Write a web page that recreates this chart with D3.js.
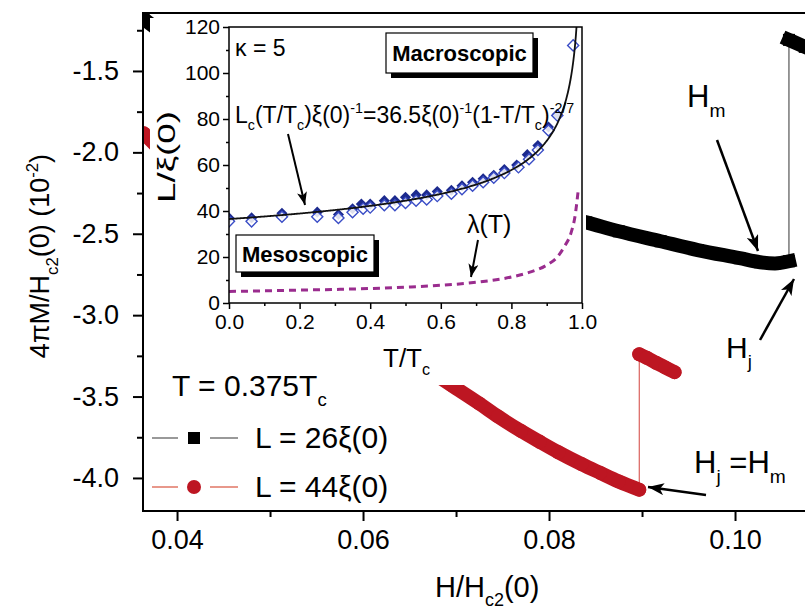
<!DOCTYPE html>
<html>
<head>
<meta charset="utf-8">
<script src="https://cdn.jsdelivr.net/npm/d3@7"></script>
<style>
  body { margin: 0; background: #fff; }
  text { font-family: "Liberation Sans", Arial, Helvetica, sans-serif; fill: #000; }
</style>
</head>
<body>
<svg id="chart" width="805" height="612"></svg>
<script>
// ---------- main panel: 4πM/Hc2(0) versus H/Hc2(0) at T = 0.375Tc ----------
const fieldMajor = [0.04, 0.06, 0.08, 0.10];
const fieldMinor = [0.05, 0.07, 0.09];
const magMajor = [-1.5, -2.0, -2.5, -3.0, -3.5, -4.0];
const magMinor = [-1.25, -1.75, -2.25, -2.75, -3.25, -3.75];

// L = 26ξ(0): branch before the jump and branch after it, [H, 4πM]
const l26Before = [
  [0.0364, -1.180], [0.0400, -1.330], [0.0425, -1.420], [0.0480, -1.617],
  [0.0530, -1.789], [0.0585, -1.943], [0.0640, -2.078], [0.0695, -2.195],
  [0.0745, -2.294], [0.0800, -2.374], [0.0840, -2.430], [0.0875, -2.485],
  [0.0920, -2.546], [0.0960, -2.600], [0.1005, -2.650], [0.1027, -2.675],
  [0.1043, -2.682], [0.1058, -2.669]
];
const l26After = [
  [0.1058, -1.309], [0.1075, -1.352], [0.1090, -1.390]
];

// L = 44ξ(0)
const l44Before = [
  [0.0364, -1.882], [0.0390, -2.030], [0.0425, -2.202], [0.0480, -2.480],
  [0.0530, -2.735], [0.0585, -2.990], [0.0640, -3.218], [0.0695, -3.430],
  [0.0725, -3.543], [0.0745, -3.622], [0.0770, -3.712], [0.0790, -3.778],
  [0.0810, -3.842], [0.0835, -3.915], [0.0855, -3.969], [0.0875, -4.022],
  [0.0897, -4.072]
];
const l44After = [
  [0.0897, -3.240], [0.0905, -3.262], [0.0915, -3.292], [0.0925, -3.321],
  [0.0935, -3.350]
];

// ---------- inset: critical size L/ξ(0) versus T/Tc ----------
const insetXMajor = [0.0, 0.2, 0.4, 0.6, 0.8, 1.0];
const insetXMinor = [0.1, 0.3, 0.5, 0.7, 0.9];
const insetYMajor = [0, 20, 40, 60, 80, 100, 120];
const insetYMinor = [10, 30, 50, 70, 90, 110];

const openT = [0.0, 0.064, 0.15, 0.25, 0.31, 0.35, 0.38, 0.40, 0.44, 0.47, 0.50, 0.53,
  0.56, 0.59, 0.63, 0.66, 0.69, 0.72, 0.75, 0.78, 0.82, 0.85, 0.875, 0.905, 0.93, 0.975];
const openL = [35.5, 35.5, 37.5, 37.5, 37.0, 39.5, 41.0, 41.5, 42.5, 42.5, 43.5, 44.5,
  45.0, 46.5, 47.5, 49.5, 51.0, 52.5, 54.5, 56.5, 59.0, 62.5, 66.5, 75.0, 81.5, 112.0];
const filledT = [0.0, 0.064, 0.15, 0.25, 0.31, 0.35, 0.375, 0.40, 0.44, 0.47, 0.50, 0.53,
  0.56, 0.59, 0.63, 0.66, 0.69, 0.72, 0.75, 0.78, 0.815, 0.845, 0.875, 0.905, 0.93];
const filledL = [37.0, 37.0, 39.0, 39.5, 38.5, 41.0, 43.0, 43.0, 44.5, 44.5, 46.0, 47.0,
  47.0, 48.5, 49.0, 51.0, 52.5, 54.0, 55.5, 58.0, 60.0, 64.5, 68.5, 76.5, 82.0];

const lambdaT = [0.0, 0.1, 0.2, 0.3, 0.4, 0.5, 0.6, 0.7, 0.8, 0.85, 0.9, 0.93, 0.95, 0.97, 0.98, 0.99];
const lambdaL = [5.0, 5.3, 5.6, 5.9, 6.3, 6.9, 7.7, 9.0, 11.3, 13.3, 16.5, 20.0, 24.5, 31.0, 37.5, 50.0];

// fit quoted in the inset: Lc = 36.5 ξ(0) (1 - T/Tc)^(-2/7)
const fitPrefactor = 36.5;
const fitExponent = -2 / 7;
const fitT = d3.range(0, 0.9851, 0.0025);

// ---------- colours ----------
const RED = "#bd1622";
const BLACK = "#000";
const NAVY = "#1c2a8e";
const BLUE = "#3a4dc6";
const PURPLE = "#9a2c8e";

const svg = d3.select("#chart");

// ---------- scales ----------
const x = d3.scaleLinear().domain([0.03634, 0.1086]).range([143, 815]);
const y = d3.scaleLinear().domain([-1.144, -4.203]).range([13, 511]);

const ix = d3.scaleLinear().domain([0, 1]).range([229, 582]);
const iy = d3.scaleLinear().domain([0, 120]).range([303, 27]);

// arrow heads
const defs = svg.append("defs");
function head(id, len, wid) {
  defs.append("marker").attr("id", id)
    .attr("viewBox", `0 0 ${len} ${wid}`).attr("refX", len).attr("refY", wid / 2)
    .attr("markerWidth", len).attr("markerHeight", wid)
    .attr("markerUnits", "userSpaceOnUse").attr("orient", "auto")
    .append("path").attr("d", `M0,0 L${len},${wid / 2} L0,${wid} L${len * 0.25},${wid / 2} Z`)
    .attr("fill", "#000");
}
head("bigHead", 16, 12);
head("smallHead", 13, 10);

defs.append("clipPath").attr("id", "plotClip")
  .append("rect").attr("x", 143).attr("y", 13).attr("width", 672).attr("height", 498);

// ---------- rich text helper (sub/superscripts) ----------
function rich(sel, parts, size) {
  let off = 0;
  for (const [s, k] of parts) {
    const target = k === "sub" ? size * 0.32 : k === "sup" ? -size * 0.42 : 0;
    sel.append("tspan").attr("dy", target - off)
      .attr("font-size", k ? size * 0.62 : size).text(s);
    off = target;
  }
  return sel;
}

// ---------- series in the main panel ----------
const series = svg.append("g").attr("clip-path", "url(#plotClip)");
const lineGen = d3.line().x(d => x(d[0])).y(d => y(d[1]));
const bandGen = d3.line().x(d => x(d[0])).y(d => y(d[1])).curve(d3.curveMonotoneX);

// thin connectors (including the vertical jumps)
series.append("path").datum(l26Before.concat(l26After)).attr("d", lineGen)
  .attr("fill", "none").attr("stroke", "#333").attr("stroke-width", 1);
series.append("path").datum(l44Before.concat(l44After)).attr("d", lineGen)
  .attr("fill", "none").attr("stroke", "#d2423c").attr("stroke-width", 1);

// densely packed symbols form thick bands
[l26Before, l26After].forEach(seg => {
  series.append("path").datum(seg).attr("d", bandGen)
    .attr("fill", "none").attr("stroke", BLACK).attr("stroke-width", 14)
    .attr("stroke-linecap", "square").attr("stroke-linejoin", "round");
});
[l44Before, l44After].forEach(seg => {
  series.append("path").datum(seg).attr("d", bandGen)
    .attr("fill", "none").attr("stroke", RED).attr("stroke-width", 14)
    .attr("stroke-linecap", "round").attr("stroke-linejoin", "round");
});
series.selectAll("rect.sq").data(l26Before.concat(l26After)).enter().append("rect")
  .attr("x", d => x(d[0]) - 6).attr("y", d => y(d[1]) - 6)
  .attr("width", 12).attr("height", 12).attr("fill", BLACK);
series.selectAll("circle.ci").data(l44Before.concat(l44After)).enter().append("circle")
  .attr("cx", d => x(d[0])).attr("cy", d => y(d[1])).attr("r", 7).attr("fill", RED);

// ---------- main axes ----------
const axisStyle = g => {
  g.select(".domain").remove();
  g.selectAll(".tick line").attr("stroke", "#000").attr("stroke-width", 2);
  g.selectAll(".tick text").attr("font-size", 27).attr("fill", "#000")
    .attr("font-family", "Liberation Sans, Arial, sans-serif");
};
svg.append("g").attr("transform", "translate(143,0)")
  .call(d3.axisLeft(y).tickValues(magMajor).tickSize(10).tickPadding(14)
    .tickFormat(d => d.toFixed(1)))
  .call(axisStyle);
svg.append("g").attr("transform", "translate(143,0)")
  .call(d3.axisLeft(y).tickValues(magMinor).tickSize(6).tickFormat(""))
  .call(axisStyle);
svg.append("g").attr("transform", "translate(0,511)")
  .call(d3.axisBottom(x).tickValues(fieldMajor).tickSize(10).tickPadding(9)
    .tickFormat(d => d.toFixed(2)))
  .call(axisStyle);
svg.append("g").attr("transform", "translate(0,511)")
  .call(d3.axisBottom(x).tickValues(fieldMinor).tickSize(6).tickFormat(""))
  .call(axisStyle);

// frame
svg.append("path").attr("d", "M815,13 L143,13 L143,511 L815,511")
  .attr("fill", "none").attr("stroke", "#000").attr("stroke-width", 2);

// axis titles
rich(svg.append("text").attr("transform", "translate(49,256) rotate(-90)")
  .attr("text-anchor", "middle"),
  [["4πM/H"], ["c2", "sub"], ["(0) (10"], ["-2", "sup"], [")"]], 27);
rich(svg.append("text").attr("x", 435).attr("y", 597),
  [["H/H"], ["c2", "sub"], ["(0)"]], 29);

// ---------- inset ----------
svg.append("rect").attr("x", 150).attr("y", 18).attr("width", 436).attr("height", 367)
  .attr("fill", "#fff");

const inset = svg.append("g");
const insetAxisStyle = g => {
  g.select(".domain").remove();
  g.selectAll(".tick line").attr("stroke", "#000").attr("stroke-width", 1.5);
  g.selectAll(".tick text").attr("font-size", 21).attr("fill", "#000")
    .attr("font-family", "Liberation Sans, Arial, sans-serif");
};
inset.append("g").attr("transform", "translate(229,0)")
  .call(d3.axisLeft(iy).tickValues(insetYMajor).tickSize(6).tickPadding(3)
    .tickFormat(d3.format("d")))
  .call(insetAxisStyle);
inset.append("g").attr("transform", "translate(229,0)")
  .call(d3.axisLeft(iy).tickValues(insetYMinor).tickSize(3).tickFormat(""))
  .call(insetAxisStyle);
inset.append("g").attr("transform", "translate(0,303)")
  .call(d3.axisBottom(ix).tickValues(insetXMajor).tickSize(6).tickPadding(5)
    .tickFormat(d3.format(".1f")))
  .call(insetAxisStyle);
inset.append("g").attr("transform", "translate(0,303)")
  .call(d3.axisBottom(ix).tickValues(insetXMinor).tickSize(3).tickFormat(""))
  .call(insetAxisStyle);

defs.append("clipPath").attr("id", "insetClip")
  .append("rect").attr("x", 229).attr("y", 27).attr("width", 353).attr("height", 276);
const insetPlot = inset.append("g").attr("clip-path", "url(#insetClip)");

// λ(T)
insetPlot.append("path")
  .datum(lambdaT.map((t, i) => [t, lambdaL[i]]))
  .attr("d", d3.line().x(d => ix(d[0])).y(d => iy(d[1])).curve(d3.curveMonotoneX))
  .attr("fill", "none").attr("stroke", PURPLE).attr("stroke-width", 3)
  .attr("stroke-dasharray", "7,5");

// diamonds (squares turned by 45°)
const diamondPath = d3.symbol().type(d3.symbolSquare).size(62);
insetPlot.selectAll("path.filled").data(filledT.map((t, i) => [t, filledL[i]]))
  .enter().append("path").attr("d", diamondPath)
  .attr("transform", d => `translate(${ix(d[0])},${iy(d[1])}) rotate(45)`)
  .attr("fill", NAVY);
insetPlot.selectAll("path.open").data(openT.map((t, i) => [t, openL[i]]))
  .enter().append("path").attr("d", diamondPath)
  .attr("transform", d => `translate(${ix(d[0])},${iy(d[1])}) rotate(45)`)
  .attr("fill", "#fff").attr("fill-opacity", 0.85).attr("stroke", BLUE).attr("stroke-width", 1.4);

// fit curve
insetPlot.append("path")
  .datum(fitT.map(t => [t, fitPrefactor * Math.pow(1 - t, fitExponent)]))
  .attr("d", d3.line().x(d => ix(d[0])).y(d => iy(d[1])))
  .attr("fill", "none").attr("stroke", "#111").attr("stroke-width", 1.8);

// inset frame
inset.append("rect").attr("x", 229).attr("y", 27).attr("width", 353).attr("height", 276)
  .attr("fill", "none").attr("stroke", "#000").attr("stroke-width", 1.5);

// inset titles
inset.append("text").attr("transform", "translate(175,157) rotate(-90)")
  .attr("text-anchor", "middle").attr("font-size", 23)
  .attr("textLength", 92).attr("lengthAdjust", "spacingAndGlyphs").text("L/ξ(0)");
rich(inset.append("text").attr("x", 383).attr("y", 367),
  [["T/T"], ["c", "sub"]], 26);

inset.append("text").attr("x", 235).attr("y", 56).attr("font-size", 23).text("κ = 5");

// regime labels with drop-shadow boxes
function labelBox(x0, y0, w, h, txt) {
  inset.append("rect").attr("x", x0 + 5).attr("y", y0 + 5).attr("width", w).attr("height", h)
    .attr("fill", "#000");
  inset.append("rect").attr("x", x0).attr("y", y0).attr("width", w).attr("height", h)
    .attr("fill", "#fff").attr("stroke", "#000").attr("stroke-width", 1.2);
  inset.append("text").attr("x", x0 + w / 2).attr("y", y0 + h / 2 + 8)
    .attr("text-anchor", "middle").attr("font-size", 22).attr("font-weight", "bold").text(txt);
}
labelBox(386, 33, 147, 40, "Macroscopic");
labelBox(236, 235, 138, 37, "Mesoscopic");

rich(inset.append("text").attr("x", 235).attr("y", 123),
  [["L"], ["c", "sub"], ["(T/T"], ["c", "sub"], [")ξ(0)"], ["-1", "sup"], ["=36.5ξ(0)"],
   ["-1", "sup"], ["(1-T/T"], ["c", "sub"], [")"], ["-2/7", "sup"]], 23);
rich(inset.append("text").attr("x", 467).attr("y", 233), [["λ(T)"]], 25);

inset.append("line").attr("x1", 288).attr("y1", 134).attr("x2", 305).attr("y2", 205)
  .attr("stroke", "#000").attr("stroke-width", 2).attr("marker-end", "url(#smallHead)");
inset.append("line").attr("x1", 478).attr("y1", 240).attr("x2", 471).attr("y2", 277)
  .attr("stroke", "#000").attr("stroke-width", 2).attr("marker-end", "url(#smallHead)");

// ---------- legend ----------
const legend = svg.append("g");
rich(legend.append("text").attr("x", 172).attr("y", 396), [["T = 0.375T"], ["c", "sub"]], 30);
legend.append("line").attr("x1", 152).attr("x2", 178).attr("y1", 438).attr("y2", 438)
  .attr("stroke", "#555").attr("stroke-width", 1.2);
legend.append("line").attr("x1", 210).attr("x2", 238).attr("y1", 438).attr("y2", 438)
  .attr("stroke", "#555").attr("stroke-width", 1.2);
legend.append("rect").attr("x", 188).attr("y", 432).attr("width", 12).attr("height", 12).attr("fill", BLACK);
legend.append("text").attr("x", 255).attr("y", 448).attr("font-size", 30).text("L = 26ξ(0)");
legend.append("line").attr("x1", 152).attr("x2", 178).attr("y1", 487).attr("y2", 487)
  .attr("stroke", "#d9543f").attr("stroke-width", 1.2);
legend.append("line").attr("x1", 210).attr("x2", 238).attr("y1", 487).attr("y2", 487)
  .attr("stroke", "#d9543f").attr("stroke-width", 1.2);
legend.append("circle").attr("cx", 194).attr("cy", 487).attr("r", 7).attr("fill", RED);
legend.append("text").attr("x", 255).attr("y", 497).attr("font-size", 30).text("L = 44ξ(0)");

// ---------- annotations ----------
const notes = svg.append("g");
rich(notes.append("text").attr("x", 687).attr("y", 107), [["H"], ["m", "sub"]], 31);
notes.append("line").attr("x1", 717).attr("y1", 140).attr("x2", 758).attr("y2", 251)
  .attr("stroke", "#000").attr("stroke-width", 2.5).attr("marker-end", "url(#bigHead)");

rich(notes.append("text").attr("x", 726).attr("y", 358), [["H"], ["j", "sub"]], 30);
notes.append("line").attr("x1", 760).attr("y1", 340).attr("x2", 794).attr("y2", 279)
  .attr("stroke", "#000").attr("stroke-width", 2.5).attr("marker-end", "url(#bigHead)");

rich(notes.append("text").attr("x", 694).attr("y", 473),
  [["H"], ["j", "sub"], [" =H"], ["m", "sub"]], 31);
notes.append("line").attr("x1", 706).attr("y1", 495).attr("x2", 648).attr("y2", 487)
  .attr("stroke", "#000").attr("stroke-width", 2.5).attr("marker-end", "url(#bigHead)");
</script>
</body>
</html>
